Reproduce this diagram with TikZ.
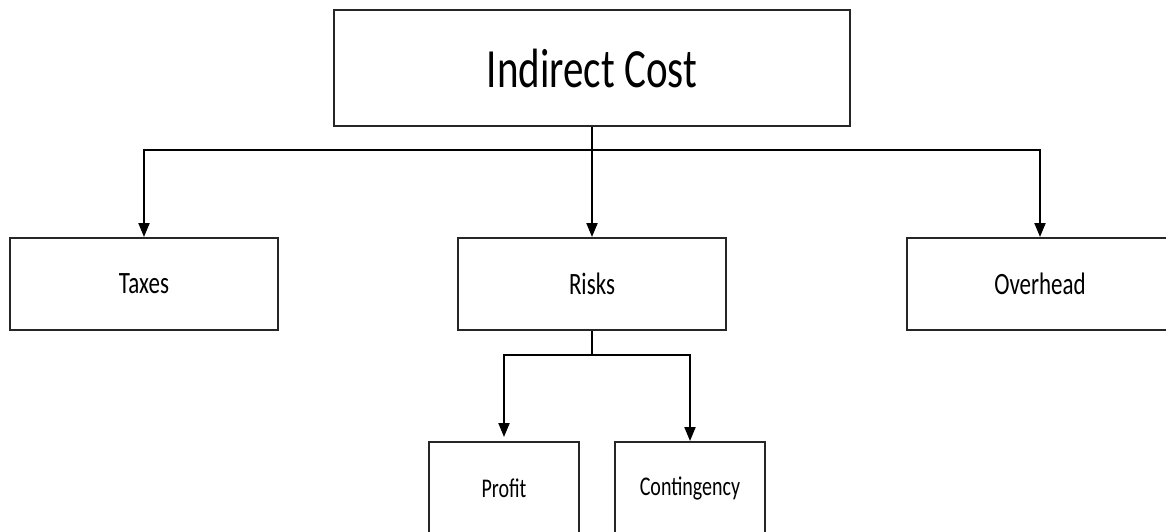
\documentclass[tikz,border=0pt]{standalone}
\usepackage{fontspec}
\setmainfont{Carlito}
\usetikzlibrary{arrows.meta}
\newcommand{\tallText}[1]{\scalebox{1}[1.35]{#1}}
\begin{document}
\begin{tikzpicture}[x=1pt,y=-1pt,
  box/.style={draw=black!85, line width=2pt, rectangle, inner sep=0pt},
  link/.style={draw=black, line width=2pt, -{Triangle[length=14pt,width=11pt]}}]
  \useasboundingbox (0,0) rectangle (1166,531);
  \clip (0,0) rectangle (1166,531);

  % root and first level
  \node[box, minimum width=516pt, minimum height=116pt] (top) at (592,68)
    {\fontsize{41}{48}\selectfont\tallText{Indirect Cost}};
  \node[box, minimum width=268pt, minimum height=92pt] (taxes) at (144,284)
    {\fontsize{23}{28}\selectfont\tallText{Taxes}};
  \node[box, minimum width=268pt, minimum height=92pt] (risks) at (592,284)
    {\fontsize{23}{28}\selectfont\tallText{Risks}};
  \node[box, minimum width=266pt, minimum height=92pt] (overhead) at (1040,284)
    {\fontsize{23}{28}\selectfont\tallText{Overhead}};

  % second level under Risks
  \node[box, minimum width=150pt, minimum height=92pt] (profit) at (504,488)
    {\fontsize{20}{24}\selectfont\tallText{Profit}};
  \node[box, minimum width=150pt, minimum height=92pt] (contingency) at (690,488)
    {\fontsize{20}{24}\selectfont\tallText{Contingency}};

  % connectors
  \draw[link] (top.south) -- ++(0,23) -| (taxes.north);
  \draw[link] (top.south) -- ++(0,23) -| (overhead.north);
  \draw[link] (top.south) -- (top.south |- risks.north);
  \draw[link, shorten >=4pt] (risks.south) -- ++(0,24) -| (profit.north);
  \draw[link] (risks.south) -- ++(0,24) -| (contingency.north);
\end{tikzpicture}
\end{document}
